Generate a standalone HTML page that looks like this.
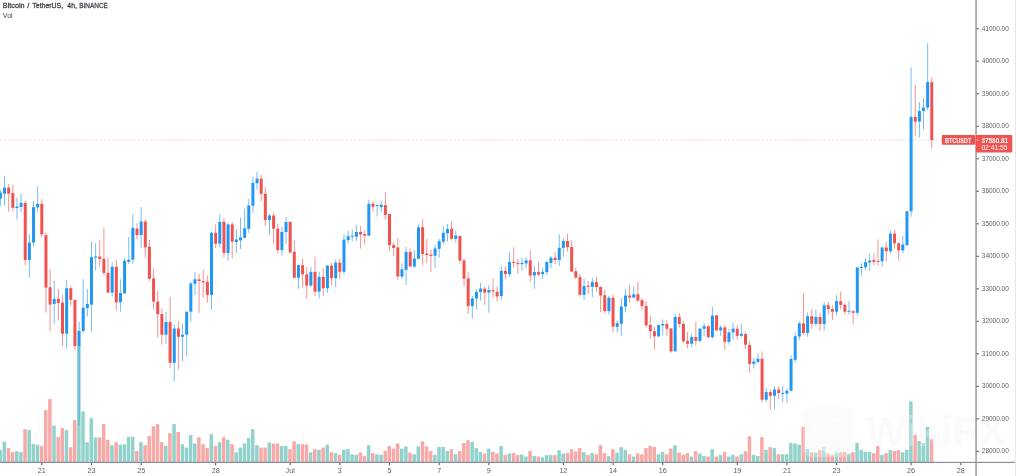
<!DOCTYPE html>
<html><head><meta charset="utf-8"><title>BTCUSDT</title>
<style>html,body{margin:0;padding:0;background:#fff;}body{width:1016px;height:476px;overflow:hidden;position:relative;font-family:"Liberation Sans",sans-serif;}</style>
</head><body>
<svg width="1016" height="476" viewBox="0 0 1016 476" style="position:absolute;left:0;top:0">
<rect width="1016" height="476" fill="#fff"/>
<g id="vol"><rect x="-1.54" y="449.8" width="3.5" height="12.5" fill="#92d2cc"/><rect x="2.59" y="441.8" width="3.5" height="20.5" fill="#92d2cc"/><rect x="6.73" y="448.1" width="3.5" height="14.2" fill="#f7a9a7"/><rect x="10.87" y="452.1" width="3.5" height="10.2" fill="#f7a9a7"/><rect x="15.01" y="451.3" width="3.5" height="11" fill="#92d2cc"/><rect x="19.15" y="452.1" width="3.5" height="10.2" fill="#92d2cc"/><rect x="23.29" y="429.2" width="3.5" height="33.1" fill="#f7a9a7"/><rect x="27.43" y="430.1" width="3.5" height="32.2" fill="#92d2cc"/><rect x="31.57" y="444.1" width="3.5" height="18.2" fill="#92d2cc"/><rect x="35.71" y="445" width="3.5" height="17.3" fill="#92d2cc"/><rect x="39.85" y="445.8" width="3.5" height="16.5" fill="#f7a9a7"/><rect x="43.99" y="410.2" width="3.5" height="52.1" fill="#f7a9a7"/><rect x="48.13" y="399.1" width="3.5" height="63.2" fill="#f7a9a7"/><rect x="52.27" y="425.6" width="3.5" height="36.7" fill="#92d2cc"/><rect x="56.41" y="436.9" width="3.5" height="25.4" fill="#f7a9a7"/><rect x="60.55" y="428.1" width="3.5" height="34.2" fill="#f7a9a7"/><rect x="64.69" y="430.1" width="3.5" height="32.2" fill="#92d2cc"/><rect x="68.83" y="447.2" width="3.5" height="15.1" fill="#f7a9a7"/><rect x="72.97" y="420" width="3.5" height="42.3" fill="#f7a9a7"/><rect x="77.11" y="345.8" width="3.5" height="116.5" fill="#92d2cc"/><rect x="81.24" y="411.4" width="3.5" height="50.9" fill="#92d2cc"/><rect x="85.38" y="442.3" width="3.5" height="20" fill="#92d2cc"/><rect x="89.52" y="418.1" width="3.5" height="44.2" fill="#92d2cc"/><rect x="93.66" y="437.3" width="3.5" height="25" fill="#92d2cc"/><rect x="97.8" y="437.3" width="3.5" height="25" fill="#f7a9a7"/><rect x="101.94" y="424" width="3.5" height="38.3" fill="#f7a9a7"/><rect x="106.08" y="439.8" width="3.5" height="22.5" fill="#f7a9a7"/><rect x="110.22" y="445.2" width="3.5" height="17.1" fill="#92d2cc"/><rect x="114.36" y="442.2" width="3.5" height="20.1" fill="#f7a9a7"/><rect x="118.5" y="444.7" width="3.5" height="17.6" fill="#92d2cc"/><rect x="122.64" y="444.2" width="3.5" height="18.1" fill="#92d2cc"/><rect x="126.78" y="436.8" width="3.5" height="25.5" fill="#92d2cc"/><rect x="130.92" y="436.8" width="3.5" height="25.5" fill="#92d2cc"/><rect x="135.06" y="451.1" width="3.5" height="11.2" fill="#f7a9a7"/><rect x="139.2" y="442.2" width="3.5" height="20.1" fill="#92d2cc"/><rect x="143.34" y="445.2" width="3.5" height="17.1" fill="#f7a9a7"/><rect x="147.48" y="436" width="3.5" height="26.3" fill="#f7a9a7"/><rect x="151.62" y="426.2" width="3.5" height="36.1" fill="#f7a9a7"/><rect x="155.76" y="424.1" width="3.5" height="38.2" fill="#f7a9a7"/><rect x="159.9" y="442.2" width="3.5" height="20.1" fill="#f7a9a7"/><rect x="164.04" y="445.9" width="3.5" height="16.4" fill="#92d2cc"/><rect x="168.17" y="433.3" width="3.5" height="29" fill="#f7a9a7"/><rect x="172.31" y="424.1" width="3.5" height="38.2" fill="#92d2cc"/><rect x="176.45" y="432.1" width="3.5" height="30.2" fill="#f7a9a7"/><rect x="180.59" y="444.2" width="3.5" height="18.1" fill="#92d2cc"/><rect x="184.73" y="447.6" width="3.5" height="14.7" fill="#92d2cc"/><rect x="188.87" y="435.1" width="3.5" height="27.2" fill="#92d2cc"/><rect x="193.01" y="443.5" width="3.5" height="18.8" fill="#92d2cc"/><rect x="197.15" y="437.2" width="3.5" height="25.1" fill="#f7a9a7"/><rect x="201.29" y="444.2" width="3.5" height="18.1" fill="#f7a9a7"/><rect x="205.43" y="448.1" width="3.5" height="14.2" fill="#f7a9a7"/><rect x="209.57" y="434.1" width="3.5" height="28.2" fill="#92d2cc"/><rect x="213.71" y="445.9" width="3.5" height="16.4" fill="#f7a9a7"/><rect x="217.85" y="442.2" width="3.5" height="20.1" fill="#92d2cc"/><rect x="221.99" y="437.2" width="3.5" height="25.1" fill="#f7a9a7"/><rect x="226.13" y="439.7" width="3.5" height="22.6" fill="#92d2cc"/><rect x="230.27" y="444.2" width="3.5" height="18.1" fill="#f7a9a7"/><rect x="234.41" y="452.3" width="3.5" height="10" fill="#92d2cc"/><rect x="238.55" y="447.6" width="3.5" height="14.7" fill="#92d2cc"/><rect x="242.69" y="443.5" width="3.5" height="18.8" fill="#92d2cc"/><rect x="246.82" y="438" width="3.5" height="24.3" fill="#92d2cc"/><rect x="250.96" y="429.1" width="3.5" height="33.2" fill="#92d2cc"/><rect x="255.1" y="445.2" width="3.5" height="17.1" fill="#92d2cc"/><rect x="259.24" y="447.6" width="3.5" height="14.7" fill="#f7a9a7"/><rect x="263.38" y="447.6" width="3.5" height="14.7" fill="#f7a9a7"/><rect x="267.52" y="442.5" width="3.5" height="19.8" fill="#92d2cc"/><rect x="271.66" y="443.5" width="3.5" height="18.8" fill="#f7a9a7"/><rect x="275.8" y="443.5" width="3.5" height="18.8" fill="#f7a9a7"/><rect x="279.94" y="445.9" width="3.5" height="16.4" fill="#92d2cc"/><rect x="284.08" y="445.9" width="3.5" height="16.4" fill="#92d2cc"/><rect x="288.22" y="449.2" width="3.5" height="13.1" fill="#f7a9a7"/><rect x="292.36" y="441.4" width="3.5" height="20.9" fill="#f7a9a7"/><rect x="296.5" y="444.2" width="3.5" height="18.1" fill="#92d2cc"/><rect x="300.64" y="444.2" width="3.5" height="18.1" fill="#f7a9a7"/><rect x="304.78" y="444.7" width="3.5" height="17.6" fill="#f7a9a7"/><rect x="308.92" y="452.3" width="3.5" height="10" fill="#92d2cc"/><rect x="313.06" y="449.2" width="3.5" height="13.1" fill="#f7a9a7"/><rect x="317.2" y="449.8" width="3.5" height="12.5" fill="#92d2cc"/><rect x="321.34" y="447.6" width="3.5" height="14.7" fill="#f7a9a7"/><rect x="325.48" y="444.7" width="3.5" height="17.6" fill="#92d2cc"/><rect x="329.62" y="452.3" width="3.5" height="10" fill="#f7a9a7"/><rect x="333.75" y="453.1" width="3.5" height="9.2" fill="#92d2cc"/><rect x="337.89" y="454.8" width="3.5" height="7.5" fill="#f7a9a7"/><rect x="342.03" y="449.8" width="3.5" height="12.5" fill="#92d2cc"/><rect x="346.17" y="449.2" width="3.5" height="13.1" fill="#92d2cc"/><rect x="350.31" y="454.3" width="3.5" height="8" fill="#92d2cc"/><rect x="354.45" y="454.8" width="3.5" height="7.5" fill="#92d2cc"/><rect x="358.59" y="452.6" width="3.5" height="9.7" fill="#f7a9a7"/><rect x="362.73" y="456.1" width="3.5" height="6.2" fill="#f7a9a7"/><rect x="366.87" y="445.2" width="3.5" height="17.1" fill="#92d2cc"/><rect x="371.01" y="453.1" width="3.5" height="9.2" fill="#f7a9a7"/><rect x="375.15" y="454.3" width="3.5" height="8" fill="#92d2cc"/><rect x="379.29" y="454.8" width="3.5" height="7.5" fill="#92d2cc"/><rect x="383.43" y="450.9" width="3.5" height="11.4" fill="#f7a9a7"/><rect x="387.57" y="445.9" width="3.5" height="16.4" fill="#f7a9a7"/><rect x="391.71" y="448.6" width="3.5" height="13.7" fill="#f7a9a7"/><rect x="395.85" y="443.5" width="3.5" height="18.8" fill="#f7a9a7"/><rect x="399.99" y="448.6" width="3.5" height="13.7" fill="#92d2cc"/><rect x="404.13" y="446.4" width="3.5" height="15.9" fill="#92d2cc"/><rect x="408.27" y="452.6" width="3.5" height="9.7" fill="#f7a9a7"/><rect x="412.41" y="454.3" width="3.5" height="8" fill="#92d2cc"/><rect x="416.54" y="446.4" width="3.5" height="15.9" fill="#92d2cc"/><rect x="420.68" y="441.4" width="3.5" height="20.9" fill="#f7a9a7"/><rect x="424.82" y="446.4" width="3.5" height="15.9" fill="#f7a9a7"/><rect x="428.96" y="450.9" width="3.5" height="11.4" fill="#f7a9a7"/><rect x="433.1" y="454.8" width="3.5" height="7.5" fill="#92d2cc"/><rect x="437.24" y="446.9" width="3.5" height="15.4" fill="#92d2cc"/><rect x="441.38" y="446.9" width="3.5" height="15.4" fill="#92d2cc"/><rect x="445.52" y="450.9" width="3.5" height="11.4" fill="#92d2cc"/><rect x="449.66" y="449.2" width="3.5" height="13.1" fill="#f7a9a7"/><rect x="453.8" y="454.3" width="3.5" height="8" fill="#92d2cc"/><rect x="457.94" y="451.1" width="3.5" height="11.2" fill="#f7a9a7"/><rect x="462.08" y="443" width="3.5" height="19.3" fill="#f7a9a7"/><rect x="466.22" y="440.2" width="3.5" height="22.1" fill="#f7a9a7"/><rect x="470.36" y="441.9" width="3.5" height="20.4" fill="#92d2cc"/><rect x="474.5" y="448.1" width="3.5" height="14.2" fill="#92d2cc"/><rect x="478.64" y="451.9" width="3.5" height="10.4" fill="#92d2cc"/><rect x="482.78" y="453.6" width="3.5" height="8.7" fill="#f7a9a7"/><rect x="486.92" y="448.6" width="3.5" height="13.7" fill="#92d2cc"/><rect x="491.06" y="451.9" width="3.5" height="10.4" fill="#f7a9a7"/><rect x="495.19" y="453.6" width="3.5" height="8.7" fill="#f7a9a7"/><rect x="499.33" y="445.9" width="3.5" height="16.4" fill="#92d2cc"/><rect x="503.47" y="455.1" width="3.5" height="7.2" fill="#f7a9a7"/><rect x="507.61" y="453.6" width="3.5" height="8.7" fill="#92d2cc"/><rect x="511.75" y="453.1" width="3.5" height="9.2" fill="#f7a9a7"/><rect x="515.89" y="455.1" width="3.5" height="7.2" fill="#f7a9a7"/><rect x="520.03" y="454.5" width="3.5" height="7.8" fill="#92d2cc"/><rect x="524.17" y="456.5" width="3.5" height="5.8" fill="#92d2cc"/><rect x="528.31" y="450.9" width="3.5" height="11.4" fill="#f7a9a7"/><rect x="532.45" y="456" width="3.5" height="6.3" fill="#92d2cc"/><rect x="536.59" y="456.5" width="3.5" height="5.8" fill="#f7a9a7"/><rect x="540.73" y="457.3" width="3.5" height="5" fill="#92d2cc"/><rect x="544.87" y="455.1" width="3.5" height="7.2" fill="#92d2cc"/><rect x="549.01" y="455.1" width="3.5" height="7.2" fill="#92d2cc"/><rect x="553.15" y="455.1" width="3.5" height="7.2" fill="#f7a9a7"/><rect x="557.29" y="450.1" width="3.5" height="12.2" fill="#92d2cc"/><rect x="561.43" y="453.6" width="3.5" height="8.7" fill="#92d2cc"/><rect x="565.57" y="453.1" width="3.5" height="9.2" fill="#f7a9a7"/><rect x="569.71" y="449.2" width="3.5" height="13.1" fill="#f7a9a7"/><rect x="573.85" y="451.4" width="3.5" height="10.9" fill="#f7a9a7"/><rect x="577.98" y="448.1" width="3.5" height="14.2" fill="#f7a9a7"/><rect x="582.12" y="452.3" width="3.5" height="10" fill="#92d2cc"/><rect x="586.26" y="455.1" width="3.5" height="7.2" fill="#f7a9a7"/><rect x="590.4" y="453.1" width="3.5" height="9.2" fill="#92d2cc"/><rect x="594.54" y="454.3" width="3.5" height="8" fill="#f7a9a7"/><rect x="598.68" y="445.2" width="3.5" height="17.1" fill="#f7a9a7"/><rect x="602.82" y="453.1" width="3.5" height="9.2" fill="#f7a9a7"/><rect x="606.96" y="456.1" width="3.5" height="6.2" fill="#92d2cc"/><rect x="611.1" y="449.2" width="3.5" height="13.1" fill="#f7a9a7"/><rect x="615.24" y="452.6" width="3.5" height="9.7" fill="#92d2cc"/><rect x="619.38" y="447.2" width="3.5" height="15.1" fill="#92d2cc"/><rect x="623.52" y="449.8" width="3.5" height="12.5" fill="#92d2cc"/><rect x="627.66" y="454.3" width="3.5" height="8" fill="#f7a9a7"/><rect x="631.8" y="456.5" width="3.5" height="5.8" fill="#92d2cc"/><rect x="635.94" y="453.4" width="3.5" height="8.9" fill="#f7a9a7"/><rect x="640.08" y="454.3" width="3.5" height="8" fill="#f7a9a7"/><rect x="644.22" y="448.1" width="3.5" height="14.2" fill="#f7a9a7"/><rect x="648.36" y="445.9" width="3.5" height="16.4" fill="#f7a9a7"/><rect x="652.5" y="446.9" width="3.5" height="15.4" fill="#f7a9a7"/><rect x="656.64" y="454.3" width="3.5" height="8" fill="#92d2cc"/><rect x="660.77" y="451.9" width="3.5" height="10.4" fill="#92d2cc"/><rect x="664.91" y="454.3" width="3.5" height="8" fill="#f7a9a7"/><rect x="669.05" y="448.6" width="3.5" height="13.7" fill="#f7a9a7"/><rect x="673.19" y="445.2" width="3.5" height="17.1" fill="#92d2cc"/><rect x="677.33" y="452.6" width="3.5" height="9.7" fill="#f7a9a7"/><rect x="681.47" y="454.8" width="3.5" height="7.5" fill="#f7a9a7"/><rect x="685.61" y="453.1" width="3.5" height="9.2" fill="#f7a9a7"/><rect x="689.75" y="456.5" width="3.5" height="5.8" fill="#92d2cc"/><rect x="693.89" y="451.1" width="3.5" height="11.2" fill="#f7a9a7"/><rect x="698.03" y="453.6" width="3.5" height="8.7" fill="#92d2cc"/><rect x="702.17" y="456" width="3.5" height="6.3" fill="#92d2cc"/><rect x="706.31" y="456.5" width="3.5" height="5.8" fill="#f7a9a7"/><rect x="710.45" y="449.2" width="3.5" height="13.1" fill="#92d2cc"/><rect x="714.59" y="456.5" width="3.5" height="5.8" fill="#f7a9a7"/><rect x="718.73" y="455.1" width="3.5" height="7.2" fill="#92d2cc"/><rect x="722.87" y="451.9" width="3.5" height="10.4" fill="#f7a9a7"/><rect x="727.01" y="456.5" width="3.5" height="5.8" fill="#92d2cc"/><rect x="731.15" y="454.8" width="3.5" height="7.5" fill="#92d2cc"/><rect x="735.29" y="456.5" width="3.5" height="5.8" fill="#f7a9a7"/><rect x="739.43" y="454.3" width="3.5" height="8" fill="#92d2cc"/><rect x="743.56" y="451.1" width="3.5" height="11.2" fill="#f7a9a7"/><rect x="747.7" y="436.3" width="3.5" height="26" fill="#f7a9a7"/><rect x="751.84" y="454.8" width="3.5" height="7.5" fill="#92d2cc"/><rect x="755.98" y="456" width="3.5" height="6.3" fill="#92d2cc"/><rect x="760.12" y="437.2" width="3.5" height="25.1" fill="#f7a9a7"/><rect x="764.26" y="449.8" width="3.5" height="12.5" fill="#92d2cc"/><rect x="768.4" y="447.2" width="3.5" height="15.1" fill="#f7a9a7"/><rect x="772.54" y="448.1" width="3.5" height="14.2" fill="#92d2cc"/><rect x="776.68" y="454.3" width="3.5" height="8" fill="#f7a9a7"/><rect x="780.82" y="454.3" width="3.5" height="8" fill="#92d2cc"/><rect x="784.96" y="454.3" width="3.5" height="8" fill="#92d2cc"/><rect x="789.1" y="443" width="3.5" height="19.3" fill="#92d2cc"/><rect x="793.24" y="443.5" width="3.5" height="18.8" fill="#92d2cc"/><rect x="797.38" y="444.7" width="3.5" height="17.6" fill="#92d2cc"/><rect x="801.52" y="426.7" width="3.5" height="35.6" fill="#f7a9a7"/><rect x="805.66" y="449.2" width="3.5" height="13.1" fill="#92d2cc"/><rect x="809.8" y="452.3" width="3.5" height="10" fill="#f7a9a7"/><rect x="813.94" y="452.6" width="3.5" height="9.7" fill="#92d2cc"/><rect x="818.08" y="450.1" width="3.5" height="12.2" fill="#f7a9a7"/><rect x="822.22" y="446.9" width="3.5" height="15.4" fill="#92d2cc"/><rect x="826.35" y="453.1" width="3.5" height="9.2" fill="#f7a9a7"/><rect x="830.49" y="455.1" width="3.5" height="7.2" fill="#f7a9a7"/><rect x="834.63" y="451.1" width="3.5" height="11.2" fill="#92d2cc"/><rect x="838.77" y="452.3" width="3.5" height="10" fill="#f7a9a7"/><rect x="842.91" y="451.9" width="3.5" height="10.4" fill="#f7a9a7"/><rect x="847.05" y="453.6" width="3.5" height="8.7" fill="#92d2cc"/><rect x="851.19" y="452.3" width="3.5" height="10" fill="#f7a9a7"/><rect x="855.33" y="443" width="3.5" height="19.3" fill="#92d2cc"/><rect x="859.47" y="449.8" width="3.5" height="12.5" fill="#92d2cc"/><rect x="863.61" y="451.9" width="3.5" height="10.4" fill="#92d2cc"/><rect x="867.75" y="451.9" width="3.5" height="10.4" fill="#92d2cc"/><rect x="871.89" y="453.1" width="3.5" height="9.2" fill="#f7a9a7"/><rect x="876.03" y="446.1" width="3.5" height="16.2" fill="#f7a9a7"/><rect x="880.17" y="454.8" width="3.5" height="7.5" fill="#92d2cc"/><rect x="884.31" y="453.1" width="3.5" height="9.2" fill="#f7a9a7"/><rect x="888.45" y="450.1" width="3.5" height="12.2" fill="#92d2cc"/><rect x="892.59" y="451.1" width="3.5" height="11.2" fill="#f7a9a7"/><rect x="896.73" y="450.1" width="3.5" height="12.2" fill="#f7a9a7"/><rect x="900.87" y="452.3" width="3.5" height="10" fill="#92d2cc"/><rect x="905.01" y="449.8" width="3.5" height="12.5" fill="#92d2cc"/><rect x="909.14" y="401.4" width="3.5" height="60.9" fill="#92d2cc"/><rect x="913.28" y="435" width="3.5" height="27.3" fill="#f7a9a7"/><rect x="917.42" y="441" width="3.5" height="21.3" fill="#92d2cc"/><rect x="921.56" y="443" width="3.5" height="19.3" fill="#92d2cc"/><rect x="925.7" y="426.7" width="3.5" height="35.6" fill="#92d2cc"/><rect x="929.84" y="439.2" width="3.5" height="23.1" fill="#f7a9a7"/></g>
<g id="wm"><rect x="803.2" y="405.8" width="49.7" height="51.1" rx="9" fill="#f3f3f4" fill-opacity="0.36"/><g fill="none" stroke="#fff" stroke-opacity="0.4" stroke-linecap="round"><path d="M814 432 A15 15 0 0 1 842 424" stroke-width="4.5"/><path d="M816 440 A14 14 0 0 1 838 428" stroke-width="3.5"/><path d="M822 446 A12 12 0 0 0 844 434" stroke-width="4"/><path d="M832 419 L846 421 L841 434" stroke-width="3"/></g><text x="865.5" y="446" font-family="Liberation Sans, sans-serif" font-weight="bold" font-size="42" textLength="141" lengthAdjust="spacingAndGlyphs" fill="#f3f3f4" fill-opacity="0.36">WikiFX</text></g>
<line x1="0" y1="140.1" x2="942" y2="140.1" stroke="#ef5350" stroke-opacity="0.55" stroke-width="0.7" stroke-dasharray="1 1.6"/>
<g id="wick" opacity="0.62"><rect x="-0.09" y="190" width="1" height="16" fill="#2196f3"/><rect x="4.04" y="176" width="1" height="29.6" fill="#2196f3"/><rect x="8.18" y="184.1" width="1" height="27.7" fill="#ef5350"/><rect x="12.32" y="184.7" width="1" height="26.2" fill="#ef5350"/><rect x="16.46" y="197.5" width="1" height="22.2" fill="#2196f3"/><rect x="20.6" y="193.7" width="1" height="18.1" fill="#2196f3"/><rect x="24.74" y="200.9" width="1" height="64.4" fill="#ef5350"/><rect x="28.88" y="234.1" width="1" height="43.5" fill="#2196f3"/><rect x="33.02" y="200.9" width="1" height="45.8" fill="#2196f3"/><rect x="37.16" y="186.1" width="1" height="25.5" fill="#2196f3"/><rect x="41.3" y="199.2" width="1" height="38.4" fill="#ef5350"/><rect x="45.44" y="232.3" width="1" height="80.2" fill="#ef5350"/><rect x="49.58" y="269.1" width="1" height="61.9" fill="#ef5350"/><rect x="53.72" y="281" width="1" height="42.8" fill="#2196f3"/><rect x="57.86" y="288.6" width="1" height="32" fill="#ef5350"/><rect x="62" y="294.9" width="1" height="50.8" fill="#ef5350"/><rect x="66.14" y="280" width="1" height="68.6" fill="#2196f3"/><rect x="70.28" y="285.3" width="1" height="20.5" fill="#ef5350"/><rect x="74.42" y="299.9" width="1" height="50" fill="#ef5350"/><rect x="78.56" y="321.6" width="1" height="103.7" fill="#2196f3"/><rect x="82.69" y="279.2" width="1" height="54.3" fill="#2196f3"/><rect x="86.83" y="289.1" width="1" height="27.4" fill="#2196f3"/><rect x="90.97" y="241.4" width="1" height="90.2" fill="#2196f3"/><rect x="95.11" y="243.3" width="1" height="27" fill="#2196f3"/><rect x="99.25" y="239.9" width="1" height="27.7" fill="#ef5350"/><rect x="103.39" y="227.3" width="1" height="48.3" fill="#ef5350"/><rect x="107.53" y="257.7" width="1" height="34.9" fill="#ef5350"/><rect x="111.67" y="262.5" width="1" height="34.1" fill="#2196f3"/><rect x="115.81" y="260" width="1" height="50.5" fill="#ef5350"/><rect x="119.95" y="279.2" width="1" height="32.5" fill="#2196f3"/><rect x="124.09" y="258.2" width="1" height="35.2" fill="#2196f3"/><rect x="128.23" y="237" width="1" height="26.9" fill="#2196f3"/><rect x="132.37" y="214" width="1" height="49.9" fill="#2196f3"/><rect x="136.51" y="223.2" width="1" height="16.3" fill="#ef5350"/><rect x="140.65" y="207.1" width="1" height="40.8" fill="#2196f3"/><rect x="144.79" y="219.9" width="1" height="37.6" fill="#ef5350"/><rect x="148.93" y="240" width="1" height="41" fill="#ef5350"/><rect x="153.07" y="268.7" width="1" height="40.8" fill="#ef5350"/><rect x="157.21" y="291" width="1" height="46.6" fill="#ef5350"/><rect x="161.35" y="308.7" width="1" height="36.1" fill="#ef5350"/><rect x="165.49" y="312" width="1" height="31.7" fill="#2196f3"/><rect x="169.62" y="296.6" width="1" height="71.2" fill="#ef5350"/><rect x="173.76" y="324.1" width="1" height="57.1" fill="#2196f3"/><rect x="177.9" y="321.3" width="1" height="48.2" fill="#ef5350"/><rect x="182.04" y="323.8" width="1" height="37.3" fill="#2196f3"/><rect x="186.18" y="311.7" width="1" height="44.8" fill="#2196f3"/><rect x="190.32" y="281.8" width="1" height="40.3" fill="#2196f3"/><rect x="194.46" y="272.1" width="1" height="23.1" fill="#2196f3"/><rect x="198.6" y="273.7" width="1" height="39.2" fill="#ef5350"/><rect x="202.74" y="270" width="1" height="27.8" fill="#ef5350"/><rect x="206.88" y="275.4" width="1" height="27.4" fill="#ef5350"/><rect x="211.02" y="231.6" width="1" height="77.9" fill="#2196f3"/><rect x="215.16" y="224.4" width="1" height="23.5" fill="#ef5350"/><rect x="219.3" y="214" width="1" height="33.4" fill="#2196f3"/><rect x="223.44" y="218" width="1" height="39.5" fill="#ef5350"/><rect x="227.58" y="223.2" width="1" height="37.6" fill="#2196f3"/><rect x="231.72" y="221.9" width="1" height="36.9" fill="#ef5350"/><rect x="235.86" y="229.4" width="1" height="23.6" fill="#2196f3"/><rect x="240" y="217.7" width="1" height="31.4" fill="#2196f3"/><rect x="244.14" y="208.8" width="1" height="29.9" fill="#2196f3"/><rect x="248.27" y="198.7" width="1" height="34.1" fill="#2196f3"/><rect x="252.41" y="177" width="1" height="35.6" fill="#2196f3"/><rect x="256.55" y="171.7" width="1" height="17.9" fill="#2196f3"/><rect x="260.69" y="175.1" width="1" height="26.2" fill="#ef5350"/><rect x="264.83" y="187.1" width="1" height="39" fill="#ef5350"/><rect x="268.97" y="213.8" width="1" height="21.2" fill="#2196f3"/><rect x="273.11" y="212.6" width="1" height="31.1" fill="#ef5350"/><rect x="277.25" y="223.6" width="1" height="29.9" fill="#ef5350"/><rect x="281.39" y="226.6" width="1" height="29.2" fill="#2196f3"/><rect x="285.53" y="216.9" width="1" height="26.9" fill="#2196f3"/><rect x="289.67" y="221.6" width="1" height="30.9" fill="#ef5350"/><rect x="293.81" y="240.4" width="1" height="38.5" fill="#ef5350"/><rect x="297.95" y="264.5" width="1" height="24.1" fill="#2196f3"/><rect x="302.09" y="258.6" width="1" height="28.7" fill="#ef5350"/><rect x="306.23" y="266.9" width="1" height="31.8" fill="#ef5350"/><rect x="310.37" y="266.9" width="1" height="19.7" fill="#2196f3"/><rect x="314.51" y="256.5" width="1" height="39.7" fill="#ef5350"/><rect x="318.65" y="271.8" width="1" height="26.9" fill="#2196f3"/><rect x="322.79" y="268.1" width="1" height="28.1" fill="#ef5350"/><rect x="326.93" y="265" width="1" height="27.8" fill="#2196f3"/><rect x="331.06" y="262.8" width="1" height="22.8" fill="#ef5350"/><rect x="335.2" y="259.2" width="1" height="28.1" fill="#2196f3"/><rect x="339.34" y="258.8" width="1" height="20.1" fill="#ef5350"/><rect x="343.48" y="234.5" width="1" height="39.9" fill="#2196f3"/><rect x="347.62" y="230.8" width="1" height="12.6" fill="#2196f3"/><rect x="351.76" y="229.5" width="1" height="11.7" fill="#2196f3"/><rect x="355.9" y="224.9" width="1" height="15.8" fill="#2196f3"/><rect x="360.04" y="226.1" width="1" height="22.4" fill="#ef5350"/><rect x="364.18" y="230.3" width="1" height="14.3" fill="#ef5350"/><rect x="368.32" y="199.7" width="1" height="36" fill="#2196f3"/><rect x="372.46" y="200.9" width="1" height="10.9" fill="#ef5350"/><rect x="376.6" y="204.8" width="1" height="11.7" fill="#2196f3"/><rect x="380.74" y="200.9" width="1" height="10.9" fill="#2196f3"/><rect x="384.88" y="192" width="1" height="27.4" fill="#ef5350"/><rect x="389.02" y="214" width="1" height="36.5" fill="#ef5350"/><rect x="393.16" y="242.1" width="1" height="14.3" fill="#ef5350"/><rect x="397.3" y="237.9" width="1" height="42" fill="#ef5350"/><rect x="401.44" y="263.1" width="1" height="15.8" fill="#2196f3"/><rect x="405.58" y="246.8" width="1" height="38.1" fill="#2196f3"/><rect x="409.72" y="248.8" width="1" height="18.2" fill="#ef5350"/><rect x="413.86" y="250.1" width="1" height="18" fill="#2196f3"/><rect x="417.99" y="224.4" width="1" height="34.4" fill="#2196f3"/><rect x="422.13" y="219.1" width="1" height="46.3" fill="#ef5350"/><rect x="426.27" y="238.7" width="1" height="24.4" fill="#ef5350"/><rect x="430.41" y="249.6" width="1" height="22.2" fill="#ef5350"/><rect x="434.55" y="244.6" width="1" height="23.5" fill="#2196f3"/><rect x="438.69" y="238.7" width="1" height="19.1" fill="#2196f3"/><rect x="442.83" y="226.1" width="1" height="18" fill="#2196f3"/><rect x="446.97" y="223.9" width="1" height="17.8" fill="#2196f3"/><rect x="451.11" y="221.7" width="1" height="18.9" fill="#ef5350"/><rect x="455.25" y="231" width="1" height="11.7" fill="#2196f3"/><rect x="459.39" y="236" width="1" height="27.7" fill="#ef5350"/><rect x="463.53" y="258.3" width="1" height="28.1" fill="#ef5350"/><rect x="467.67" y="271.8" width="1" height="42.2" fill="#ef5350"/><rect x="471.81" y="296" width="1" height="22.7" fill="#2196f3"/><rect x="475.95" y="289.1" width="1" height="20.3" fill="#2196f3"/><rect x="480.09" y="282.8" width="1" height="17.7" fill="#2196f3"/><rect x="484.23" y="286.4" width="1" height="18.5" fill="#ef5350"/><rect x="488.37" y="285.1" width="1" height="27.7" fill="#2196f3"/><rect x="492.51" y="278.4" width="1" height="19.3" fill="#ef5350"/><rect x="496.64" y="286.4" width="1" height="15.1" fill="#ef5350"/><rect x="500.78" y="266.2" width="1" height="34.3" fill="#2196f3"/><rect x="504.92" y="266.2" width="1" height="13" fill="#ef5350"/><rect x="509.06" y="252.3" width="1" height="24.5" fill="#2196f3"/><rect x="513.2" y="247.3" width="1" height="20.6" fill="#ef5350"/><rect x="517.34" y="259" width="1" height="14.8" fill="#ef5350"/><rect x="521.48" y="257.8" width="1" height="12.6" fill="#2196f3"/><rect x="525.62" y="257.3" width="1" height="11.1" fill="#2196f3"/><rect x="529.76" y="249.9" width="1" height="31.7" fill="#ef5350"/><rect x="533.9" y="265.4" width="1" height="23.4" fill="#2196f3"/><rect x="538.04" y="262" width="1" height="14.3" fill="#ef5350"/><rect x="542.18" y="267.9" width="1" height="10.9" fill="#2196f3"/><rect x="546.32" y="260.4" width="1" height="14.2" fill="#2196f3"/><rect x="550.46" y="256.2" width="1" height="11.7" fill="#2196f3"/><rect x="554.6" y="252" width="1" height="12.1" fill="#ef5350"/><rect x="558.74" y="234" width="1" height="31.9" fill="#2196f3"/><rect x="562.88" y="238.2" width="1" height="18.5" fill="#2196f3"/><rect x="567.02" y="234" width="1" height="17.6" fill="#ef5350"/><rect x="571.16" y="240.2" width="1" height="31.4" fill="#ef5350"/><rect x="575.3" y="267.9" width="1" height="11.3" fill="#ef5350"/><rect x="579.43" y="273.8" width="1" height="22.7" fill="#ef5350"/><rect x="583.57" y="278.7" width="1" height="21.2" fill="#2196f3"/><rect x="587.71" y="280.9" width="1" height="13.4" fill="#ef5350"/><rect x="591.85" y="278" width="1" height="19.2" fill="#2196f3"/><rect x="595.99" y="277" width="1" height="14.5" fill="#ef5350"/><rect x="600.13" y="286.8" width="1" height="25.5" fill="#ef5350"/><rect x="604.27" y="289.5" width="1" height="24.1" fill="#ef5350"/><rect x="608.41" y="296" width="1" height="18.5" fill="#2196f3"/><rect x="612.55" y="294.8" width="1" height="37.6" fill="#ef5350"/><rect x="616.69" y="320.3" width="1" height="12.4" fill="#2196f3"/><rect x="620.83" y="298.1" width="1" height="37.7" fill="#2196f3"/><rect x="624.97" y="289.7" width="1" height="22.6" fill="#2196f3"/><rect x="629.11" y="284.7" width="1" height="18" fill="#ef5350"/><rect x="633.25" y="286.4" width="1" height="11.7" fill="#2196f3"/><rect x="637.39" y="282" width="1" height="20.2" fill="#ef5350"/><rect x="641.53" y="298.5" width="1" height="11.4" fill="#ef5350"/><rect x="645.67" y="301" width="1" height="26.4" fill="#ef5350"/><rect x="649.81" y="316.1" width="1" height="22.7" fill="#ef5350"/><rect x="653.95" y="327" width="1" height="22.7" fill="#ef5350"/><rect x="658.09" y="324.5" width="1" height="12.6" fill="#2196f3"/><rect x="662.22" y="319.5" width="1" height="15.9" fill="#2196f3"/><rect x="666.36" y="320.3" width="1" height="16" fill="#ef5350"/><rect x="670.5" y="327.9" width="1" height="24.7" fill="#ef5350"/><rect x="674.64" y="313.6" width="1" height="37.8" fill="#2196f3"/><rect x="678.78" y="312.8" width="1" height="14.6" fill="#ef5350"/><rect x="682.92" y="321.2" width="1" height="21.8" fill="#ef5350"/><rect x="687.06" y="332.1" width="1" height="16.4" fill="#ef5350"/><rect x="691.2" y="334.1" width="1" height="13.4" fill="#2196f3"/><rect x="695.34" y="322" width="1" height="23.5" fill="#ef5350"/><rect x="699.48" y="327.9" width="1" height="14.6" fill="#2196f3"/><rect x="703.62" y="323.3" width="1" height="13" fill="#2196f3"/><rect x="707.76" y="324.5" width="1" height="14" fill="#ef5350"/><rect x="711.9" y="306.9" width="1" height="31.9" fill="#2196f3"/><rect x="716.04" y="315" width="1" height="16.2" fill="#ef5350"/><rect x="720.18" y="325.4" width="1" height="10.4" fill="#2196f3"/><rect x="724.32" y="325.4" width="1" height="24.4" fill="#ef5350"/><rect x="728.46" y="328.7" width="1" height="15.8" fill="#2196f3"/><rect x="732.6" y="322.8" width="1" height="16.8" fill="#2196f3"/><rect x="736.74" y="325.4" width="1" height="14.2" fill="#ef5350"/><rect x="740.88" y="324" width="1" height="13.1" fill="#2196f3"/><rect x="745.01" y="332.1" width="1" height="16.8" fill="#ef5350"/><rect x="749.15" y="341.3" width="1" height="31.5" fill="#ef5350"/><rect x="753.29" y="357.8" width="1" height="10.8" fill="#2196f3"/><rect x="757.43" y="353.7" width="1" height="9.5" fill="#2196f3"/><rect x="761.57" y="351.5" width="1" height="50.7" fill="#ef5350"/><rect x="765.71" y="387.9" width="1" height="14.3" fill="#2196f3"/><rect x="769.85" y="389.6" width="1" height="20.2" fill="#ef5350"/><rect x="773.99" y="386.2" width="1" height="23" fill="#2196f3"/><rect x="778.13" y="386.2" width="1" height="12.3" fill="#ef5350"/><rect x="782.27" y="386.2" width="1" height="16" fill="#2196f3"/><rect x="786.41" y="389.1" width="1" height="13.4" fill="#2196f3"/><rect x="790.55" y="355.5" width="1" height="35.3" fill="#2196f3"/><rect x="794.69" y="332.2" width="1" height="30.5" fill="#2196f3"/><rect x="798.83" y="321.2" width="1" height="18.5" fill="#2196f3"/><rect x="802.97" y="293.2" width="1" height="41.5" fill="#ef5350"/><rect x="807.11" y="312.8" width="1" height="24.1" fill="#2196f3"/><rect x="811.25" y="308.6" width="1" height="20.2" fill="#ef5350"/><rect x="815.39" y="310" width="1" height="16.3" fill="#2196f3"/><rect x="819.53" y="312.8" width="1" height="18" fill="#ef5350"/><rect x="823.67" y="302.3" width="1" height="28.2" fill="#2196f3"/><rect x="827.8" y="301.9" width="1" height="12.1" fill="#ef5350"/><rect x="831.94" y="305.3" width="1" height="14.8" fill="#ef5350"/><rect x="836.08" y="294.9" width="1" height="20.1" fill="#2196f3"/><rect x="840.22" y="291.5" width="1" height="18" fill="#ef5350"/><rect x="844.36" y="303.3" width="1" height="11.2" fill="#ef5350"/><rect x="848.5" y="301.1" width="1" height="12.9" fill="#2196f3"/><rect x="852.64" y="310" width="1" height="13.8" fill="#ef5350"/><rect x="856.78" y="266.9" width="1" height="48.5" fill="#2196f3"/><rect x="860.92" y="263" width="1" height="12.7" fill="#2196f3"/><rect x="865.06" y="258" width="1" height="12.2" fill="#2196f3"/><rect x="869.2" y="253.8" width="1" height="16.8" fill="#2196f3"/><rect x="873.34" y="254.1" width="1" height="11.1" fill="#ef5350"/><rect x="877.48" y="239.5" width="1" height="26.3" fill="#ef5350"/><rect x="881.62" y="247" width="1" height="19.9" fill="#2196f3"/><rect x="885.76" y="242" width="1" height="19.3" fill="#ef5350"/><rect x="889.9" y="230.6" width="1" height="23.5" fill="#2196f3"/><rect x="894.04" y="230.2" width="1" height="18.5" fill="#ef5350"/><rect x="898.18" y="242" width="1" height="18.8" fill="#ef5350"/><rect x="902.32" y="236.1" width="1" height="17.3" fill="#2196f3"/><rect x="906.46" y="210.4" width="1" height="36.3" fill="#2196f3"/><rect x="910.59" y="67.3" width="1" height="149.5" fill="#2196f3"/><rect x="914.73" y="84.6" width="1" height="51.1" fill="#ef5350"/><rect x="918.87" y="101.8" width="1" height="35.7" fill="#2196f3"/><rect x="923.01" y="97.6" width="1" height="31.9" fill="#2196f3"/><rect x="927.15" y="43.1" width="1" height="67.1" fill="#2196f3"/><rect x="931.29" y="77" width="1" height="71.5" fill="#ef5350"/></g>
<g id="body"><rect x="-1.09" y="192.7" width="3" height="6" fill="#2196f3"/><rect x="3.04" y="187.6" width="3" height="6.1" fill="#2196f3"/><rect x="7.18" y="187.6" width="3" height="6.1" fill="#ef5350"/><rect x="11.32" y="193" width="3" height="14.8" fill="#ef5350"/><rect x="15.46" y="206.5" width="3" height="1.5" fill="#2196f3"/><rect x="19.6" y="203" width="3" height="3.9" fill="#2196f3"/><rect x="23.74" y="203" width="3" height="57" fill="#ef5350"/><rect x="27.88" y="242.6" width="3" height="17.4" fill="#2196f3"/><rect x="32.02" y="207.2" width="3" height="35.4" fill="#2196f3"/><rect x="36.16" y="203.8" width="3" height="3.7" fill="#2196f3"/><rect x="40.3" y="203.8" width="3" height="30.6" fill="#ef5350"/><rect x="44.44" y="235.1" width="3" height="52.5" fill="#ef5350"/><rect x="48.58" y="287.3" width="3" height="17.3" fill="#ef5350"/><rect x="52.72" y="298.9" width="3" height="5" fill="#2196f3"/><rect x="56.86" y="298.9" width="3" height="4" fill="#ef5350"/><rect x="61" y="302.7" width="3" height="31" fill="#ef5350"/><rect x="65.14" y="288.2" width="3" height="45.5" fill="#2196f3"/><rect x="69.28" y="288.2" width="3" height="11.7" fill="#ef5350"/><rect x="73.42" y="299.9" width="3" height="46.2" fill="#ef5350"/><rect x="77.56" y="330.8" width="3" height="15.3" fill="#2196f3"/><rect x="81.69" y="307.7" width="3" height="23.3" fill="#2196f3"/><rect x="85.83" y="303.9" width="3" height="4.1" fill="#2196f3"/><rect x="89.97" y="257.1" width="3" height="47.5" fill="#2196f3"/><rect x="94.11" y="256.5" width="3" height="1.2" fill="#2196f3"/><rect x="98.25" y="256.5" width="3" height="2.5" fill="#ef5350"/><rect x="102.39" y="258.8" width="3" height="14.1" fill="#ef5350"/><rect x="106.53" y="272.9" width="3" height="19.7" fill="#ef5350"/><rect x="110.67" y="266.8" width="3" height="25.8" fill="#2196f3"/><rect x="114.81" y="266.8" width="3" height="35.6" fill="#ef5350"/><rect x="118.95" y="293" width="3" height="9.2" fill="#2196f3"/><rect x="123.09" y="260.8" width="3" height="32.6" fill="#2196f3"/><rect x="127.23" y="259.7" width="3" height="2.2" fill="#2196f3"/><rect x="131.37" y="227.8" width="3" height="31.9" fill="#2196f3"/><rect x="135.51" y="228.6" width="3" height="6.4" fill="#ef5350"/><rect x="139.65" y="221.5" width="3" height="13.5" fill="#2196f3"/><rect x="143.79" y="221.5" width="3" height="25.9" fill="#ef5350"/><rect x="147.93" y="246.7" width="3" height="32.1" fill="#ef5350"/><rect x="152.07" y="278.4" width="3" height="23.2" fill="#ef5350"/><rect x="156.21" y="301.6" width="3" height="12.5" fill="#ef5350"/><rect x="160.35" y="314.1" width="3" height="20.6" fill="#ef5350"/><rect x="164.49" y="322.1" width="3" height="12.6" fill="#2196f3"/><rect x="168.62" y="322.1" width="3" height="40.7" fill="#ef5350"/><rect x="172.76" y="328.5" width="3" height="34.3" fill="#2196f3"/><rect x="176.9" y="328.5" width="3" height="8.3" fill="#ef5350"/><rect x="181.04" y="334.7" width="3" height="2.1" fill="#2196f3"/><rect x="185.18" y="311.7" width="3" height="23" fill="#2196f3"/><rect x="189.32" y="283.5" width="3" height="28.2" fill="#2196f3"/><rect x="193.46" y="279.3" width="3" height="4.5" fill="#2196f3"/><rect x="197.6" y="279.3" width="3" height="1.7" fill="#ef5350"/><rect x="201.74" y="281" width="3" height="1.3" fill="#ef5350"/><rect x="205.88" y="281.8" width="3" height="13.1" fill="#ef5350"/><rect x="210.02" y="232.8" width="3" height="62.1" fill="#2196f3"/><rect x="214.16" y="232.8" width="3" height="10.9" fill="#ef5350"/><rect x="218.3" y="221.9" width="3" height="21.8" fill="#2196f3"/><rect x="222.44" y="221.9" width="3" height="31.1" fill="#ef5350"/><rect x="226.58" y="224.4" width="3" height="28.6" fill="#2196f3"/><rect x="230.72" y="224.4" width="3" height="17.3" fill="#ef5350"/><rect x="234.86" y="239.5" width="3" height="2.5" fill="#2196f3"/><rect x="239" y="237.3" width="3" height="3.1" fill="#2196f3"/><rect x="243.14" y="228.3" width="3" height="9.5" fill="#2196f3"/><rect x="247.27" y="205.4" width="3" height="23.5" fill="#2196f3"/><rect x="251.41" y="182.9" width="3" height="22.8" fill="#2196f3"/><rect x="255.55" y="178.6" width="3" height="4.7" fill="#2196f3"/><rect x="259.69" y="178.6" width="3" height="15.2" fill="#ef5350"/><rect x="263.83" y="193.8" width="3" height="26.1" fill="#ef5350"/><rect x="267.97" y="215.5" width="3" height="4.4" fill="#2196f3"/><rect x="272.11" y="215.5" width="3" height="13.1" fill="#ef5350"/><rect x="276.25" y="228.6" width="3" height="21.5" fill="#ef5350"/><rect x="280.39" y="232" width="3" height="18.1" fill="#2196f3"/><rect x="284.53" y="222" width="3" height="10" fill="#2196f3"/><rect x="288.67" y="221.9" width="3" height="30.6" fill="#ef5350"/><rect x="292.81" y="251.9" width="3" height="25.8" fill="#ef5350"/><rect x="296.95" y="265.1" width="3" height="12.6" fill="#2196f3"/><rect x="301.09" y="265.1" width="3" height="9.3" fill="#ef5350"/><rect x="305.23" y="274.4" width="3" height="11.2" fill="#ef5350"/><rect x="309.37" y="271.8" width="3" height="13.8" fill="#2196f3"/><rect x="313.51" y="271.8" width="3" height="19.9" fill="#ef5350"/><rect x="317.65" y="276.9" width="3" height="14.8" fill="#2196f3"/><rect x="321.79" y="276.9" width="3" height="11.4" fill="#ef5350"/><rect x="325.93" y="265.5" width="3" height="22.8" fill="#2196f3"/><rect x="330.06" y="265.7" width="3" height="12.5" fill="#ef5350"/><rect x="334.2" y="262.6" width="3" height="15.6" fill="#2196f3"/><rect x="338.34" y="262.6" width="3" height="9.2" fill="#ef5350"/><rect x="342.48" y="239.6" width="3" height="32.2" fill="#2196f3"/><rect x="346.62" y="236.2" width="3" height="3.9" fill="#2196f3"/><rect x="350.76" y="235.7" width="3" height="1" fill="#2196f3"/><rect x="354.9" y="232" width="3" height="4.7" fill="#2196f3"/><rect x="359.04" y="232" width="3" height="2.5" fill="#ef5350"/><rect x="363.18" y="234" width="3" height="1.7" fill="#ef5350"/><rect x="367.32" y="203.8" width="3" height="31.9" fill="#2196f3"/><rect x="371.46" y="203.8" width="3" height="3" fill="#ef5350"/><rect x="375.6" y="205" width="3" height="1" fill="#2196f3"/><rect x="379.74" y="204.8" width="3" height="2.3" fill="#2196f3"/><rect x="383.88" y="205.1" width="3" height="9.8" fill="#ef5350"/><rect x="388.02" y="214" width="3" height="31.1" fill="#ef5350"/><rect x="392.16" y="245.1" width="3" height="2.9" fill="#ef5350"/><rect x="396.3" y="247.4" width="3" height="29.1" fill="#ef5350"/><rect x="400.44" y="269.3" width="3" height="7.2" fill="#2196f3"/><rect x="404.58" y="251.9" width="3" height="17.9" fill="#2196f3"/><rect x="408.72" y="251.9" width="3" height="14.6" fill="#ef5350"/><rect x="412.86" y="258.6" width="3" height="7.9" fill="#2196f3"/><rect x="416.99" y="227.3" width="3" height="31.5" fill="#2196f3"/><rect x="421.13" y="227.3" width="3" height="26.7" fill="#ef5350"/><rect x="425.27" y="253.6" width="3" height="1.5" fill="#ef5350"/><rect x="429.41" y="254.7" width="3" height="1.2" fill="#ef5350"/><rect x="433.55" y="248.5" width="3" height="7.2" fill="#2196f3"/><rect x="437.69" y="241.2" width="3" height="7.6" fill="#2196f3"/><rect x="441.83" y="232.8" width="3" height="8.9" fill="#2196f3"/><rect x="445.97" y="229" width="3" height="4.3" fill="#2196f3"/><rect x="450.11" y="228.7" width="3" height="10.1" fill="#ef5350"/><rect x="454.25" y="235.5" width="3" height="3.4" fill="#2196f3"/><rect x="458.39" y="236" width="3" height="24.6" fill="#ef5350"/><rect x="462.53" y="260.4" width="3" height="18.3" fill="#ef5350"/><rect x="466.67" y="278.4" width="3" height="27.7" fill="#ef5350"/><rect x="470.81" y="298.5" width="3" height="7.6" fill="#2196f3"/><rect x="474.95" y="291.8" width="3" height="6.7" fill="#2196f3"/><rect x="479.09" y="288.5" width="3" height="3.6" fill="#2196f3"/><rect x="483.23" y="288.7" width="3" height="3.9" fill="#ef5350"/><rect x="487.37" y="290.1" width="3" height="2.5" fill="#2196f3"/><rect x="491.51" y="290.2" width="3" height="1.3" fill="#ef5350"/><rect x="495.64" y="291.8" width="3" height="4.7" fill="#ef5350"/><rect x="499.78" y="270.8" width="3" height="25.2" fill="#2196f3"/><rect x="503.92" y="270.8" width="3" height="3.3" fill="#ef5350"/><rect x="508.06" y="262" width="3" height="12.1" fill="#2196f3"/><rect x="512.2" y="262" width="3" height="1" fill="#ef5350"/><rect x="516.34" y="262.9" width="3" height="1.2" fill="#ef5350"/><rect x="520.48" y="262.9" width="3" height="1.2" fill="#2196f3"/><rect x="524.62" y="260.4" width="3" height="3" fill="#2196f3"/><rect x="528.76" y="260.4" width="3" height="15.1" fill="#ef5350"/><rect x="532.9" y="272.1" width="3" height="3.4" fill="#2196f3"/><rect x="537.04" y="272.1" width="3" height="2.5" fill="#ef5350"/><rect x="541.18" y="271.8" width="3" height="2.3" fill="#2196f3"/><rect x="545.32" y="262" width="3" height="10.1" fill="#2196f3"/><rect x="549.46" y="257.8" width="3" height="5.1" fill="#2196f3"/><rect x="553.6" y="257.8" width="3" height="2.2" fill="#ef5350"/><rect x="557.74" y="247.8" width="3" height="12.2" fill="#2196f3"/><rect x="561.88" y="241" width="3" height="6.8" fill="#2196f3"/><rect x="566.02" y="241" width="3" height="6.3" fill="#ef5350"/><rect x="570.16" y="246.9" width="3" height="24.7" fill="#ef5350"/><rect x="574.3" y="271.3" width="3" height="6.2" fill="#ef5350"/><rect x="578.43" y="277.1" width="3" height="17.7" fill="#ef5350"/><rect x="582.57" y="285.9" width="3" height="8.9" fill="#2196f3"/><rect x="586.71" y="285.6" width="3" height="1.2" fill="#ef5350"/><rect x="590.85" y="282.1" width="3" height="4.7" fill="#2196f3"/><rect x="594.99" y="282.1" width="3" height="4.9" fill="#ef5350"/><rect x="599.13" y="286.8" width="3" height="8.7" fill="#ef5350"/><rect x="603.27" y="295.2" width="3" height="15.9" fill="#ef5350"/><rect x="607.41" y="297.7" width="3" height="13.4" fill="#2196f3"/><rect x="611.55" y="297.7" width="3" height="29" fill="#ef5350"/><rect x="615.69" y="323.3" width="3" height="3.6" fill="#2196f3"/><rect x="619.83" y="306.5" width="3" height="17.2" fill="#2196f3"/><rect x="623.97" y="295.5" width="3" height="11" fill="#2196f3"/><rect x="628.11" y="295.5" width="3" height="2.1" fill="#ef5350"/><rect x="632.25" y="294.3" width="3" height="3.3" fill="#2196f3"/><rect x="636.39" y="294.3" width="3" height="6.2" fill="#ef5350"/><rect x="640.53" y="300.2" width="3" height="5.8" fill="#ef5350"/><rect x="644.67" y="306" width="3" height="19.4" fill="#ef5350"/><rect x="648.81" y="325" width="3" height="6.2" fill="#ef5350"/><rect x="652.95" y="331.2" width="3" height="5.1" fill="#ef5350"/><rect x="657.09" y="325" width="3" height="11.3" fill="#2196f3"/><rect x="661.22" y="324" width="3" height="1.4" fill="#2196f3"/><rect x="665.36" y="324" width="3" height="4.7" fill="#ef5350"/><rect x="669.5" y="328.4" width="3" height="23" fill="#ef5350"/><rect x="673.64" y="317" width="3" height="34.4" fill="#2196f3"/><rect x="677.78" y="317" width="3" height="7" fill="#ef5350"/><rect x="681.92" y="324" width="3" height="17.3" fill="#ef5350"/><rect x="686.06" y="340.8" width="3" height="3" fill="#ef5350"/><rect x="690.2" y="337.1" width="3" height="6.7" fill="#2196f3"/><rect x="694.34" y="337.1" width="3" height="3.7" fill="#ef5350"/><rect x="698.48" y="328.7" width="3" height="12.1" fill="#2196f3"/><rect x="702.62" y="326.2" width="3" height="2.5" fill="#2196f3"/><rect x="706.76" y="326.2" width="3" height="10.9" fill="#ef5350"/><rect x="710.9" y="315.6" width="3" height="21.5" fill="#2196f3"/><rect x="715.04" y="315.3" width="3" height="15.1" fill="#ef5350"/><rect x="719.18" y="327.4" width="3" height="3" fill="#2196f3"/><rect x="723.32" y="327.4" width="3" height="14.4" fill="#ef5350"/><rect x="727.46" y="332.4" width="3" height="9.4" fill="#2196f3"/><rect x="731.6" y="328.7" width="3" height="3.7" fill="#2196f3"/><rect x="735.74" y="328.7" width="3" height="7.1" fill="#ef5350"/><rect x="739.88" y="333.8" width="3" height="2" fill="#2196f3"/><rect x="744.01" y="334.1" width="3" height="10.6" fill="#ef5350"/><rect x="748.15" y="345" width="3" height="18.9" fill="#ef5350"/><rect x="752.29" y="361.5" width="3" height="2.4" fill="#2196f3"/><rect x="756.43" y="358.8" width="3" height="3.1" fill="#2196f3"/><rect x="760.57" y="358.8" width="3" height="40.9" fill="#ef5350"/><rect x="764.71" y="392.1" width="3" height="7.6" fill="#2196f3"/><rect x="768.85" y="392.1" width="3" height="3.7" fill="#ef5350"/><rect x="772.99" y="389.6" width="3" height="6.2" fill="#2196f3"/><rect x="777.13" y="389.6" width="3" height="3.4" fill="#ef5350"/><rect x="781.27" y="392.9" width="3" height="1" fill="#2196f3"/><rect x="785.41" y="390.8" width="3" height="2.7" fill="#2196f3"/><rect x="789.55" y="358.9" width="3" height="31.9" fill="#2196f3"/><rect x="793.69" y="336.2" width="3" height="23.7" fill="#2196f3"/><rect x="797.83" y="323.4" width="3" height="13.1" fill="#2196f3"/><rect x="801.97" y="323.4" width="3" height="9.6" fill="#ef5350"/><rect x="806.11" y="316.2" width="3" height="16.8" fill="#2196f3"/><rect x="810.25" y="316.2" width="3" height="7.6" fill="#ef5350"/><rect x="814.39" y="317" width="3" height="6.8" fill="#2196f3"/><rect x="818.53" y="317" width="3" height="7.1" fill="#ef5350"/><rect x="822.67" y="305.3" width="3" height="18.8" fill="#2196f3"/><rect x="826.8" y="305.3" width="3" height="3.7" fill="#ef5350"/><rect x="830.94" y="309" width="3" height="2.7" fill="#ef5350"/><rect x="835.08" y="301.1" width="3" height="10.6" fill="#2196f3"/><rect x="839.22" y="301.1" width="3" height="3.8" fill="#ef5350"/><rect x="843.36" y="304.9" width="3" height="6.8" fill="#ef5350"/><rect x="847.5" y="310.75" width="3" height="1" fill="#2196f3"/><rect x="851.64" y="311.2" width="3" height="1.6" fill="#ef5350"/><rect x="855.78" y="267.5" width="3" height="45.3" fill="#2196f3"/><rect x="859.92" y="266.9" width="3" height="1.1" fill="#2196f3"/><rect x="864.06" y="262.2" width="3" height="5" fill="#2196f3"/><rect x="868.2" y="260.5" width="3" height="2" fill="#2196f3"/><rect x="872.34" y="260.1" width="3" height="1.7" fill="#ef5350"/><rect x="876.48" y="260.9" width="3" height="1" fill="#ef5350"/><rect x="880.62" y="247.5" width="3" height="13.8" fill="#2196f3"/><rect x="884.76" y="247.5" width="3" height="3.7" fill="#ef5350"/><rect x="888.9" y="233.6" width="3" height="17.6" fill="#2196f3"/><rect x="893.04" y="233.6" width="3" height="9.7" fill="#ef5350"/><rect x="897.18" y="243.3" width="3" height="7.1" fill="#ef5350"/><rect x="901.32" y="244.5" width="3" height="5.9" fill="#2196f3"/><rect x="905.46" y="211.4" width="3" height="33.6" fill="#2196f3"/><rect x="909.59" y="116.9" width="3" height="94.5" fill="#2196f3"/><rect x="913.73" y="116.9" width="3" height="4.7" fill="#ef5350"/><rect x="917.87" y="111" width="3" height="10.6" fill="#2196f3"/><rect x="922.01" y="107.6" width="3" height="3.4" fill="#2196f3"/><rect x="926.15" y="82.1" width="3" height="25.5" fill="#2196f3"/><rect x="930.29" y="82.1" width="3" height="58" fill="#ef5350"/></g>
<rect x="975.4" y="0" width="1.3" height="476" fill="#888b95"/>
<rect x="0" y="461.85" width="1016" height="1.15" fill="#888b95"/>
<rect x="1015" y="0" width="1" height="476" fill="#e6e7ea"/>
<rect x="976.5" y="28.2" width="2.3" height="1.1" fill="#5a5d68"/>
<rect x="976.5" y="60.71" width="2.3" height="1.1" fill="#5a5d68"/>
<rect x="976.5" y="93.22" width="2.3" height="1.1" fill="#5a5d68"/>
<rect x="976.5" y="125.73" width="2.3" height="1.1" fill="#5a5d68"/>
<rect x="976.5" y="158.24" width="2.3" height="1.1" fill="#5a5d68"/>
<rect x="976.5" y="190.75" width="2.3" height="1.1" fill="#5a5d68"/>
<rect x="976.5" y="223.26" width="2.3" height="1.1" fill="#5a5d68"/>
<rect x="976.5" y="255.77" width="2.3" height="1.1" fill="#5a5d68"/>
<rect x="976.5" y="288.28" width="2.3" height="1.1" fill="#5a5d68"/>
<rect x="976.5" y="320.79" width="2.3" height="1.1" fill="#5a5d68"/>
<rect x="976.5" y="353.3" width="2.3" height="1.1" fill="#5a5d68"/>
<rect x="976.5" y="385.81" width="2.3" height="1.1" fill="#5a5d68"/>
<rect x="976.5" y="418.32" width="2.3" height="1.1" fill="#5a5d68"/>
<rect x="976.5" y="450.83" width="2.3" height="1.1" fill="#5a5d68"/>
<rect x="41.25" y="462.9" width="1.1" height="2.3" fill="#5a5d68"/>
<rect x="90.92" y="462.9" width="1.1" height="2.3" fill="#5a5d68"/>
<rect x="140.6" y="462.9" width="1.1" height="2.3" fill="#5a5d68"/>
<rect x="215.11" y="462.9" width="1.1" height="2.3" fill="#5a5d68"/>
<rect x="289.62" y="462.9" width="1.1" height="2.3" fill="#5a5d68"/>
<rect x="339.29" y="462.9" width="1.1" height="2.3" fill="#5a5d68"/>
<rect x="388.97" y="462.9" width="1.1" height="2.3" fill="#5a5d68"/>
<rect x="438.64" y="462.9" width="1.1" height="2.3" fill="#5a5d68"/>
<rect x="488.32" y="462.9" width="1.1" height="2.3" fill="#5a5d68"/>
<rect x="562.83" y="462.9" width="1.1" height="2.3" fill="#5a5d68"/>
<rect x="612.5" y="462.9" width="1.1" height="2.3" fill="#5a5d68"/>
<rect x="662.17" y="462.9" width="1.1" height="2.3" fill="#5a5d68"/>
<rect x="736.69" y="462.9" width="1.1" height="2.3" fill="#5a5d68"/>
<rect x="786.36" y="462.9" width="1.1" height="2.3" fill="#5a5d68"/>
<rect x="836.03" y="462.9" width="1.1" height="2.3" fill="#5a5d68"/>
<rect x="910.54" y="462.9" width="1.1" height="2.3" fill="#5a5d68"/>
<rect x="960.22" y="462.9" width="1.1" height="2.3" fill="#5a5d68"/>
<rect x="941.8" y="135.1" width="33.5" height="9.6" rx="1" fill="#ef5350"/>
<rect x="975.9" y="135.1" width="36.4" height="17.4" rx="1" fill="#ef5350"/>
<rect x="976.5" y="139.7" width="2.2" height="0.9" fill="#f9bcbb"/>
<defs><filter id="tb" x="0" y="0" width="1016" height="476" filterUnits="userSpaceOnUse"><feGaussianBlur stdDeviation="0.22"/></filter></defs>
<g id="txt" font-family="Liberation Sans, sans-serif" filter="url(#tb)"><text x="981.8" y="30.75" font-size="7.2" fill="#5b5e6a" textLength="27" lengthAdjust="spacingAndGlyphs">41000.00</text><text x="981.8" y="63.26" font-size="7.2" fill="#5b5e6a" textLength="27" lengthAdjust="spacingAndGlyphs">40000.00</text><text x="981.8" y="95.77" font-size="7.2" fill="#5b5e6a" textLength="27" lengthAdjust="spacingAndGlyphs">39000.00</text><text x="981.8" y="128.28" font-size="7.2" fill="#5b5e6a" textLength="27" lengthAdjust="spacingAndGlyphs">38000.00</text><text x="981.8" y="160.79" font-size="7.2" fill="#5b5e6a" textLength="27" lengthAdjust="spacingAndGlyphs">37000.00</text><text x="981.8" y="193.3" font-size="7.2" fill="#5b5e6a" textLength="27" lengthAdjust="spacingAndGlyphs">36000.00</text><text x="981.8" y="225.81" font-size="7.2" fill="#5b5e6a" textLength="27" lengthAdjust="spacingAndGlyphs">35000.00</text><text x="981.8" y="258.32" font-size="7.2" fill="#5b5e6a" textLength="27" lengthAdjust="spacingAndGlyphs">34000.00</text><text x="981.8" y="290.83" font-size="7.2" fill="#5b5e6a" textLength="27" lengthAdjust="spacingAndGlyphs">33000.00</text><text x="981.8" y="323.34" font-size="7.2" fill="#5b5e6a" textLength="27" lengthAdjust="spacingAndGlyphs">32000.00</text><text x="981.8" y="355.85" font-size="7.2" fill="#5b5e6a" textLength="27" lengthAdjust="spacingAndGlyphs">31000.00</text><text x="981.8" y="388.36" font-size="7.2" fill="#5b5e6a" textLength="27" lengthAdjust="spacingAndGlyphs">30000.00</text><text x="981.8" y="420.87" font-size="7.2" fill="#5b5e6a" textLength="27" lengthAdjust="spacingAndGlyphs">29000.00</text><text x="981.8" y="453.38" font-size="7.2" fill="#5b5e6a" textLength="27" lengthAdjust="spacingAndGlyphs">28000.00</text><text x="41.8" y="472.7" font-size="7.2" fill="#5b5e6a" text-anchor="middle">21</text><text x="91.47" y="472.7" font-size="7.2" fill="#5b5e6a" text-anchor="middle">23</text><text x="141.15" y="472.7" font-size="7.2" fill="#5b5e6a" text-anchor="middle">25</text><text x="215.66" y="472.7" font-size="7.2" fill="#5b5e6a" text-anchor="middle">28</text><text x="290.17" y="472.7" font-size="7.2" fill="#5b5e6a" text-anchor="middle">Jul</text><text x="339.84" y="472.7" font-size="7.2" fill="#5b5e6a" text-anchor="middle">3</text><text x="389.52" y="472.7" font-size="7.2" fill="#5b5e6a" text-anchor="middle">5</text><text x="439.19" y="472.7" font-size="7.2" fill="#5b5e6a" text-anchor="middle">7</text><text x="488.87" y="472.7" font-size="7.2" fill="#5b5e6a" text-anchor="middle">9</text><text x="563.38" y="472.7" font-size="7.2" fill="#5b5e6a" text-anchor="middle">12</text><text x="613.05" y="472.7" font-size="7.2" fill="#5b5e6a" text-anchor="middle">14</text><text x="662.72" y="472.7" font-size="7.2" fill="#5b5e6a" text-anchor="middle">16</text><text x="737.24" y="472.7" font-size="7.2" fill="#5b5e6a" text-anchor="middle">19</text><text x="786.91" y="472.7" font-size="7.2" fill="#5b5e6a" text-anchor="middle">21</text><text x="836.58" y="472.7" font-size="7.2" fill="#5b5e6a" text-anchor="middle">23</text><text x="911.09" y="472.7" font-size="7.2" fill="#5b5e6a" text-anchor="middle">26</text><text x="960.77" y="472.7" font-size="7.2" fill="#5b5e6a" text-anchor="middle">28</text><text x="944.9" y="142.7" font-size="7.1" font-weight="bold" fill="#fff" textLength="26.4" lengthAdjust="spacingAndGlyphs">BTCUSDT</text><text x="981.4" y="142.7" font-size="7.1" font-weight="bold" fill="#fff" textLength="26.7" lengthAdjust="spacingAndGlyphs">37580.81</text><text x="981.4" y="150.3" font-size="7.1" fill="#fff" textLength="26" lengthAdjust="spacingAndGlyphs">02:41:55</text><text x="2.8" y="8.3" font-size="7.1" stroke="#3a3d49" stroke-width="0.26" fill="#3a3d49" textLength="21.8" lengthAdjust="spacingAndGlyphs">Bitcoin</text><text x="27.2" y="8.3" font-size="7.1" stroke="#3a3d49" stroke-width="0.26" fill="#3a3d49" textLength="2.1" lengthAdjust="spacingAndGlyphs">/</text><text x="32.4" y="8.3" font-size="7.1" stroke="#3a3d49" stroke-width="0.26" fill="#3a3d49" textLength="30.7" lengthAdjust="spacingAndGlyphs">TetherUS,</text><text x="67.3" y="8.3" font-size="7.1" stroke="#3a3d49" stroke-width="0.26" fill="#3a3d49" textLength="9.6" lengthAdjust="spacingAndGlyphs">4h,</text><text x="79.3" y="8.3" font-size="7.1" stroke="#3a3d49" stroke-width="0.26" fill="#3a3d49" textLength="28.6" lengthAdjust="spacingAndGlyphs">BINANCE</text><text x="2.8" y="18.2" font-size="7.1" fill="#454853">Vol</text></g>
</svg>
</body></html>
